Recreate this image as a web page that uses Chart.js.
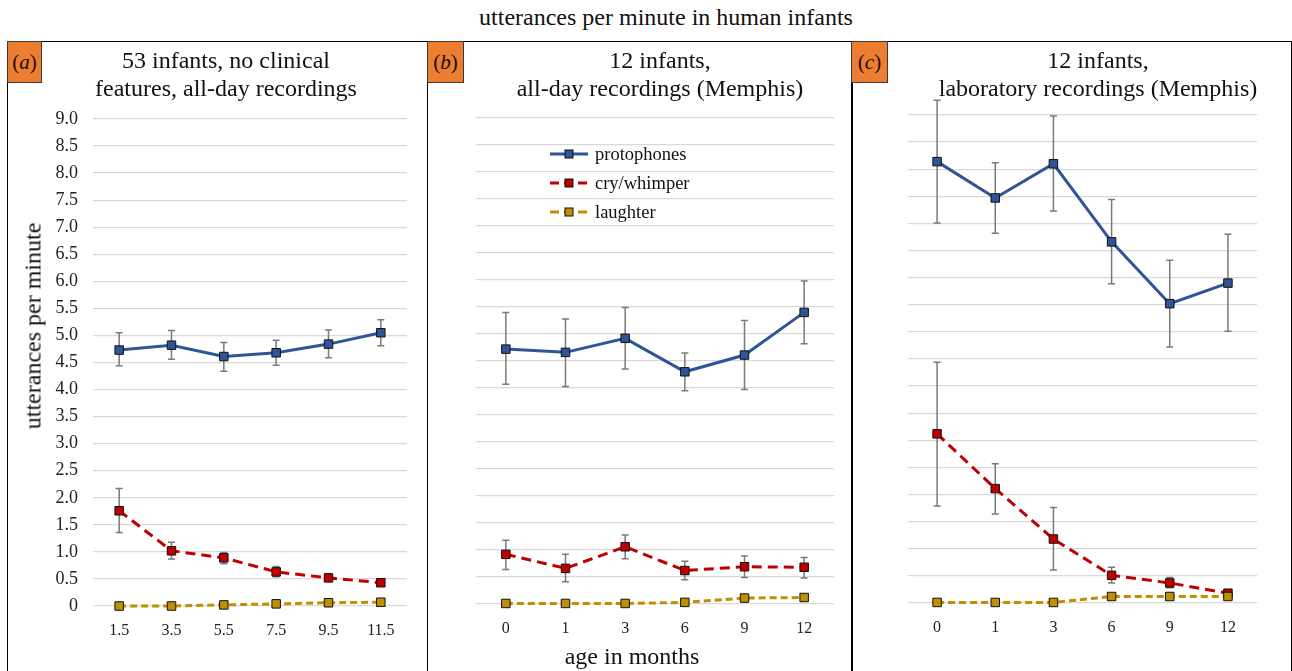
<!DOCTYPE html>
<html>
<head>
<meta charset="utf-8">
<script src="https://cdn.jsdelivr.net/npm/chart.js@4.4.0/dist/chart.umd.min.js"></script>
<style>
  body { margin: 0; background: #fff; font-family: "Liberation Serif", "Times New Roman", Times, serif; color: #111; }
  #wrap { position: relative; width: 1292px; height: 671px; overflow: hidden; }
  .panel { position: absolute; top: 41px; height: 660px; border: 1.5px solid #000; box-sizing: border-box; }
  canvas { position: absolute; top: 42px; }
  .tag { position: absolute; top: 41px; height: 42px; background: #ED7D31; border: 1px solid #3a3a3a;
         box-sizing: border-box; font-size: 21px; line-height: 40px; text-align: center; }
  .ptitle { position: absolute; top: 46px; font-size: 24px; line-height: 28px; text-align: center;
            white-space: nowrap; transform: translateX(-50%); }
  .txt { position: absolute; white-space: nowrap; font-size: 24px; transform: translate(-50%, -50%); }
  .leg { position: absolute; left: 550px; height: 20px; display: flex; align-items: center; font-size: 18.5px; }
  .leg svg { margin-right: 7px; }
</style>
</head>
<body>
<div id="wrap">
  <div class="txt" style="left:666px; top:17px;">utterances per minute in human infants</div>

  <div class="panel" style="left:7px; width:421px;"></div>
  <div class="panel" style="left:427px; width:426px;"></div>
  <div class="panel" style="left:851px; width:441px;"></div>

  <canvas id="chartA" style="left:8px;"></canvas>
  <canvas id="chartB" style="left:428px;"></canvas>
  <canvas id="chartC" style="left:852px;"></canvas>

  <div class="tag" style="left:7px; width:35px;">(<i>a</i>)</div>
  <div class="tag" style="left:427px; width:37px;">(<i>b</i>)</div>
  <div class="tag" style="left:851px; width:37px;">(<i>c</i>)</div>

  <div class="ptitle" style="left:226px;">53 infants, no clinical<br>features, all-day recordings</div>
  <div class="ptitle" style="left:660px;">12 infants,<br>all-day recordings (Memphis)</div>
  <div class="ptitle" style="left:1098px;">12 infants,<br>laboratory recordings (Memphis)</div>

  <div class="txt" style="left:33px; top:326px; transform: translate(-50%, -50%) rotate(-90deg);">utterances per minute</div>
  <div class="txt" style="left:632px; top:656px;">age in months</div>

  <div id="legend"></div>
</div>

<script>
// categories and tick labels
const agesA = ['1.5', '3.5', '5.5', '7.5', '9.5', '11.5'];
const agesBC = ['0', '1', '3', '6', '9', '12'];
const yTickLabels = ['0', '0.5', '1.0', '1.5', '2.0', '2.5', '3.0', '3.5', '4.0', '4.5',
                     '5.0', '5.5', '6.0', '6.5', '7.0', '7.5', '8.0', '8.5', '9.0'];
const seriesNames = ['protophones', 'cry/whimper', 'laughter'];

// (a) 53 infants, all-day
const protoA = [4.73, 4.82, 4.61, 4.68, 4.84, 5.05];
const protoAHi = [5.05, 5.09, 4.87, 4.91, 5.10, 5.29];
const protoALo = [4.44, 4.56, 4.34, 4.45, 4.59, 4.81];
const cryA = [1.76, 1.02, 0.89, 0.63, 0.52, 0.43];
const cryAHi = [2.17, 1.18, 0.99, 0.73, 0.57, 0.46];
const cryALo = [1.36, 0.87, 0.78, 0.54, 0.47, 0.40];
const laughA = [0.00, 0.00, 0.02, 0.04, 0.06, 0.07];

// (b) 12 infants, all-day (Memphis)
const protoB = [4.72, 4.66, 4.92, 4.30, 4.61, 5.40];
const protoBHi = [5.40, 5.28, 5.49, 4.65, 5.25, 5.98];
const protoBLo = [4.07, 4.03, 4.35, 3.95, 3.97, 4.82];
const cryB = [0.92, 0.66, 1.06, 0.62, 0.69, 0.68];
const cryBHi = [1.18, 0.92, 1.28, 0.79, 0.89, 0.86];
const cryBLo = [0.64, 0.41, 0.84, 0.45, 0.49, 0.48];
const laughB = [0.01, 0.01, 0.01, 0.03, 0.11, 0.12];

// (c) 12 infants, laboratory (Memphis)
const protoC = [8.14, 7.47, 8.10, 6.66, 5.52, 5.90];
const protoCHi = [9.27, 8.12, 8.98, 7.44, 6.32, 6.80];
const protoCLo = [7.01, 6.82, 7.23, 5.89, 4.72, 5.01];
const cryC = [3.12, 2.11, 1.18, 0.51, 0.37, 0.18];
const cryCHi = [4.44, 2.57, 1.76, 0.66, 0.47, 0.22];
const cryCLo = [1.79, 1.64, 0.61, 0.37, 0.28, 0.14];
const laughC = [0.01, 0.01, 0.01, 0.12, 0.12, 0.12];
const laughCHi = [0.01, 0.01, 0.01, 0.16, 0.15, 0.16];
const laughCLo = [0.01, 0.01, 0.01, 0.08, 0.09, 0.08];

const FONT = '"Liberation Serif", "Times New Roman", Times, serif';
const styles = [
  { color: '#2F5597', dash: [], order: 2 },
  { color: '#C00000', dash: [10, 6], order: 1 },
  { color: '#BF9000', dash: [7, 4], order: 0 }
];

const errorBars = {
  id: 'errorBars',
  beforeDatasetsDraw(chart) {
    const ctx = chart.ctx;
    const y = chart.scales.y;
    chart.data.datasets.forEach((ds, i) => {
      if (!ds.errLow) return;
      chart.getDatasetMeta(i).data.forEach((pt, j) => {
        const yl = y.getPixelForValue(ds.errLow[j]);
        const yh = y.getPixelForValue(ds.errHigh[j]);
        ctx.save();
        ctx.strokeStyle = '#7a7a7a';
        ctx.lineWidth = 1.5;
        ctx.beginPath();
        ctx.moveTo(pt.x, yl); ctx.lineTo(pt.x, yh);
        ctx.moveTo(pt.x - 3.5, yl); ctx.lineTo(pt.x + 3.5, yl);
        ctx.moveTo(pt.x - 3.5, yh); ctx.lineTo(pt.x + 3.5, yh);
        ctx.stroke();
        ctx.restore();
      });
    });
  }
};

function makeSet(k, values, lo, hi) {
  const s = styles[k];
  return {
    label: seriesNames[k],
    data: values,
    errLow: lo,
    errHigh: hi,
    borderColor: s.color,
    borderDash: s.dash,
    borderWidth: 3,
    pointStyle: 'rect',
    pointRadius: 6,
    pointBackgroundColor: s.color,
    pointBorderColor: '#111',
    pointBorderWidth: 1,
    order: s.order,
    clip: false
  };
}

// area = chart area inside the canvas (left, right, top, bottom)
function panelChart(id, w, h, area, labels, sets, showTicks) {
  const canvas = document.getElementById(id);
  canvas.width = w;
  canvas.height = h;
  return new Chart(canvas, {
    type: 'line',
    data: { labels: labels, datasets: sets },
    options: {
      responsive: false,
      animation: false,
      devicePixelRatio: 1,
      layout: { padding: { top: area.top, right: w - area.right, left: 0, bottom: 0 } },
      plugins: { legend: { display: false }, tooltip: { enabled: false } },
      scales: {
        x: {
          offset: true,
          grid: { display: false },
          border: { display: false },
          ticks: { color: '#222', font: { family: FONT, size: 16 }, padding: 7, maxRotation: 0 },
          afterFit(s) { s.height = h - area.bottom; s.paddingLeft = 0; s.paddingRight = 0; }
        },
        y: {
          min: 0,
          max: 9,
          grid: { color: '#d9d9d9', lineWidth: 1.3, drawTicks: false },
          border: { display: false },
          ticks: {
            display: showTicks,
            stepSize: 0.5,
            color: '#222',
            font: { family: FONT, size: 18 },
            padding: 15,
            callback: (v, i) => yTickLabels[i]
          },
          afterFit(s) { s.width = area.left; s.paddingTop = 0; s.paddingBottom = 0; }
        }
      }
    },
    plugins: [errorBars]
  });
}

panelChart('chartA', 420, 629, { left: 85, right: 399, top: 77, bottom: 564 }, agesA, [
  makeSet(0, protoA, protoALo, protoAHi),
  makeSet(1, cryA, cryALo, cryAHi),
  makeSet(2, laughA, null, null)
], true);

panelChart('chartB', 424, 629, { left: 48, right: 406, top: 76, bottom: 562 }, agesBC, [
  makeSet(0, protoB, protoBLo, protoBHi),
  makeSet(1, cryB, cryBLo, cryBHi),
  makeSet(2, laughB, null, null)
], false);

panelChart('chartC', 440, 629, { left: 56, right: 405, top: 73, bottom: 561 }, agesBC, [
  makeSet(0, protoC, protoCLo, protoCHi),
  makeSet(1, cryC, cryCLo, cryCHi),
  makeSet(2, laughC, laughCLo, laughCHi)
], false);

// legend inside panel (b)
const legend = document.getElementById('legend');
const legendRows = [144, 173, 202];
seriesNames.forEach((name, k) => {
  const s = styles[k];
  const row = document.createElement('div');
  row.className = 'leg';
  row.style.top = legendRows[k] + 'px';
  row.innerHTML =
    '<svg width="38" height="12"><line x1="0" y1="6" x2="38" y2="6" stroke="' + s.color +
    '" stroke-width="3" stroke-dasharray="' + (s.dash.length ? '9,5' : 'none') + '"/>' +
    '<rect x="15" y="2" width="8" height="8" fill="' + s.color + '" stroke="#111" stroke-width="1"/></svg>' +
    '<span>' + name + '</span>';
  legend.appendChild(row);
});
</script>
</body>
</html>
